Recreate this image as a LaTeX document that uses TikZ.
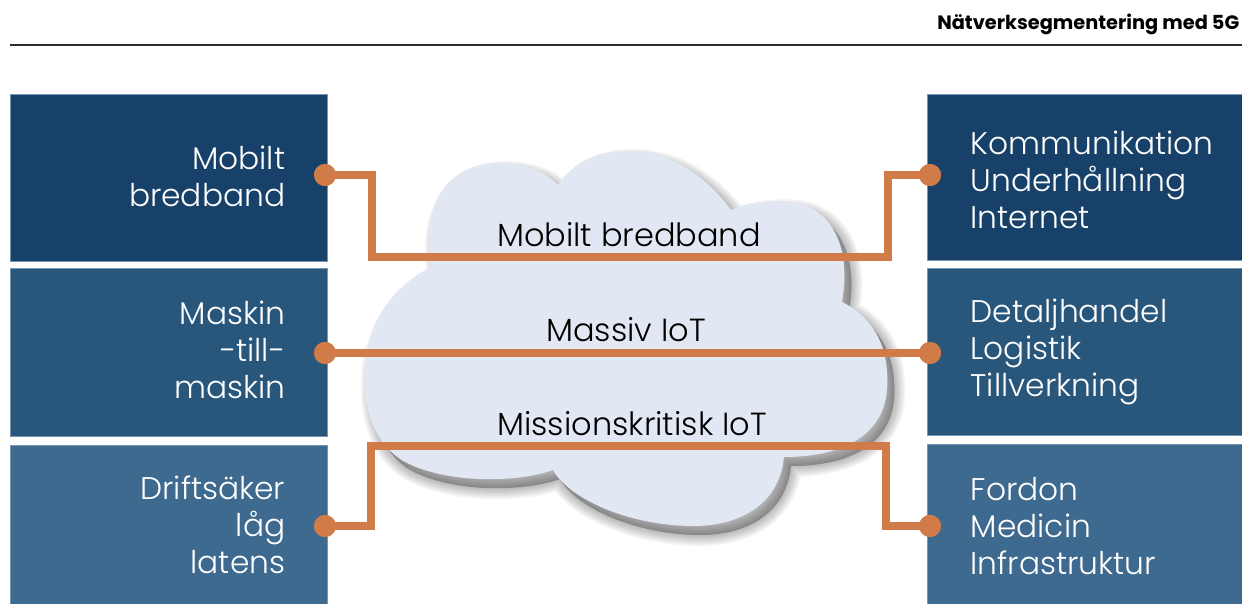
\documentclass[tikz,border=0pt]{standalone}
\usepackage{fontspec}
\setmainfont{Poppins}[UprightFont={* Light},BoldFont={* Bold}]
\definecolor{navyA}{RGB}{23,65,104}
\definecolor{navyB}{RGB}{41,87,124}
\definecolor{navyC}{RGB}{62,106,143}
\definecolor{panelEdge}{RGB}{120,150,180}
\definecolor{linkOrange}{RGB}{208,123,72}
\definecolor{cloudFill}{RGB}{225,232,243}
\definecolor{ruleGray}{RGB}{45,45,45}

% outline of the network cloud, in pixel units
\newcommand\cloudoutline[1]{%
  \path[#1] (431,267) .. controls (420,200) and (450,163) .. (500,163)
    .. controls (525,163) and (545,172) .. (558,185)
    .. controls (575,160) and (600,150) .. (630,151)
    .. controls (670,152) and (705,175) .. (731,210)
    .. controls (750,202) and (770,200) .. (790,202)
    .. controls (830,206) and (852,245) .. (842,302)
    .. controls (875,318) and (890,350) .. (887,390)
    .. controls (884,430) and (850,457) .. (784,457)
    .. controls (780,500) and (745,527) .. (690,526)
    .. controls (630,525) and (570,500) .. (553,470)
    .. controls (520,482) and (450,485) .. (405,462)
    .. controls (375,445) and (363,410) .. (365,370)
    .. controls (367,320) and (395,285) .. (431,267) -- cycle;}

\begin{document}
\begin{tikzpicture}[x=0.01cm,y=-0.01cm,
  panel/.style={rectangle, inner sep=0, draw=panelEdge, line width=0.3pt},
  paneltext/.style={inner sep=0, text=white, font=\fontsize{8.9}{10.5}\selectfont},
  cloudlabel/.style={inner sep=0, anchor=base, text=black, font=\fontsize{9.1}{10.5}\selectfont},
  link/.style={draw=linkOrange, line width=0.08cm, line join=miter},
  dot/.style={circle, fill=linkOrange, inner sep=0, minimum size=0.22cm}]
\useasboundingbox (0,0) rectangle (1242,604);

% page header
\node[anchor=base east, inner sep=0, font=\fontsize{5.5}{6}\selectfont\bfseries] (hdr) at (1240,30) {Nätverksegmentering med 5G};
\draw[ruleGray, line width=0.022cm] (10,45) coordinate (r0) -- (1242,45) coordinate (r1);

% service panels on the left
\node[panel, fill=navyA, minimum width=3.16cm, minimum height=1.66cm] (L1) at (169,178) {};
\node[panel, fill=navyB, minimum width=3.16cm, minimum height=1.67cm] (L2) at (169,352.5) {};
\node[panel, fill=navyC, minimum width=3.16cm, minimum height=1.58cm] (L3) at (169,525) {};
% application panels on the right
\node[panel, fill=navyA, minimum width=3.14cm, minimum height=1.65cm] (R1) at (1085,177.5) {};
\node[panel, fill=navyB, minimum width=3.14cm, minimum height=1.66cm] (R2) at (1085,352) {};
\node[panel, fill=navyC, minimum width=3.14cm, minimum height=1.59cm] (R3) at (1085,524.5) {};

\node[paneltext, anchor=east, align=right] (tL1) at (286,176) {Mobilt\\bredband};
\node[paneltext, anchor=east, align=right] (tL2) at (286,350) {Maskin\\-till-\\maskin};
\node[paneltext, anchor=east, align=right] (tL3) at (286,525) {Driftsäker\\låg\\latens};
\node[paneltext, anchor=west, align=left] (tR1) at (970,180) {Kommunikation\\Underhållning\\Internet};
\node[paneltext, anchor=west, align=left] (tR2) at (970,352) {Detaljhandel\\Logistik\\Tillverkning};
\node[paneltext, anchor=west, align=left] (tR3) at (970,526) {Fordon\\Medicin\\Infrastruktur};

% soft shadow under the cloud
\foreach \w in {1,4,...,22} {
  \cloudoutline{fill=black, draw=black, fill opacity=0.04, draw opacity=0.04, line width=\w*0.01cm, shift={(7,9)}}
}
\cloudoutline{fill=cloudFill}

% connection end points
\node[dot] (dL1) at (325,175) {};
\node[dot] (dL2) at (325,353) {};
\node[dot] (dL3) at (325,526) {};
\node[dot] (dR1) at (930,175) {};
\node[dot] (dR2) at (930,353) {};
\node[dot] (dR3) at (930,526) {};
\coordinate (a1) at (372,257);
\coordinate (a2) at (888,257);
\coordinate (b1) at (371,446);
\coordinate (b2) at (886,446);

% slices through the network
\draw[link] (dL1.center) -| (a1) -- (a2) |- (dR1.center);
\draw[link] (dL2.center) -- (dR2.center);
\draw[link] (dL3.center) -| (b1) -- (b2) |- (dR3.center);
\foreach \d in {dL1,dL2,dL3,dR1,dR2,dR3} { \fill[linkOrange] (\d) circle (0.11cm); }

\node[cloudlabel] (s1) at (629,247) {Mobilt bredband};
\node[cloudlabel] (s2) at (626,342) {Massiv IoT};
\node[cloudlabel] (s3) at (632,436) {Missionskritisk IoT};
\end{tikzpicture}
\end{document}
